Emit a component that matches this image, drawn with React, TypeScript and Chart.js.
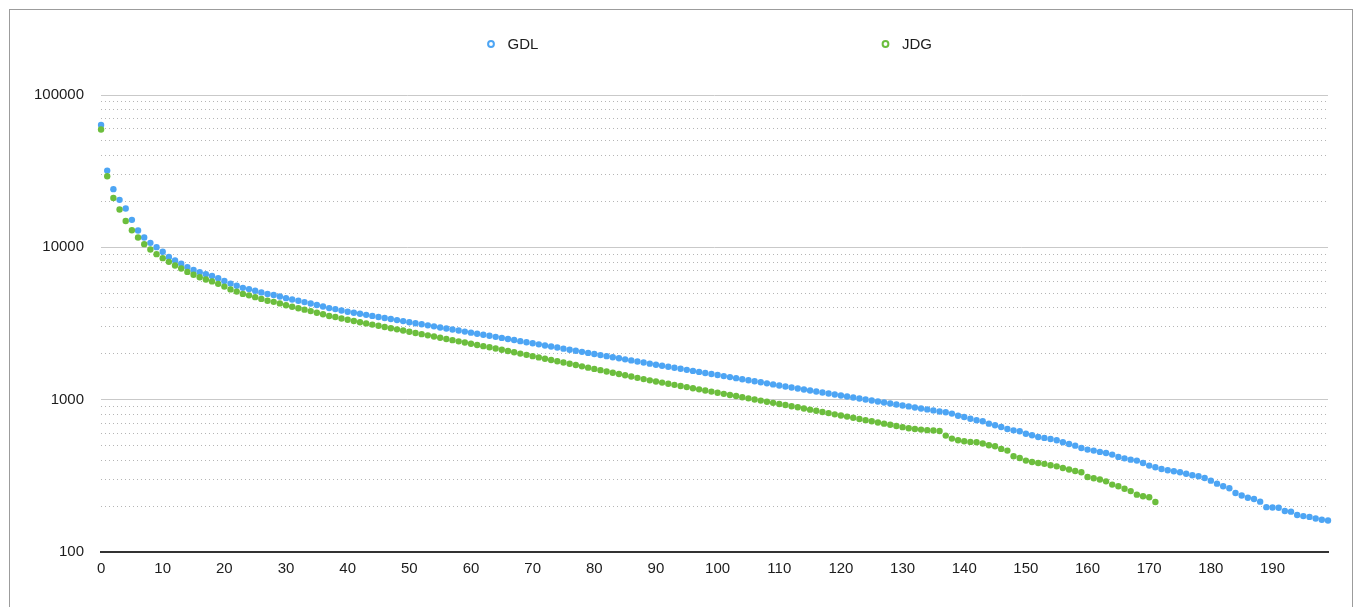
import React, { useEffect, useRef } from "react";
import { Chart, registerables } from "chart.js";

Chart.register(...registerables);

const FONT = '"Liberation Sans", Arial, Helvetica, sans-serif';

const SERIES_NAMES = ["GDL", "JDG"];
const SERIES_COLORS = ["#4DA5F4", "#6CBE3D"];

const GDL_VALUES = [
  63600, 31900, 24100, 20500, 17980, 15150, 12890, 11600, 10700, 10030,
  9345, 8640, 8190, 7800, 7420, 7110, 6870, 6660, 6480, 6260,
  6020, 5780, 5600, 5420, 5320, 5190, 5060, 4940, 4860, 4760,
  4640, 4550, 4460, 4370, 4280, 4180, 4090, 3990, 3930, 3850,
  3780, 3721, 3662, 3604, 3548, 3492, 3437, 3383, 3330, 3278,
  3226, 3175, 3125, 3076, 3028, 2980, 2933, 2887, 2842, 2797,
  2753, 2710, 2667, 2625, 2584, 2543, 2502, 2462, 2422, 2383,
  2345, 2307, 2270, 2234, 2198, 2163, 2128, 2094, 2060, 2027,
  1994, 1962, 1931, 1900, 1869, 1839, 1810, 1781, 1752, 1724,
  1697, 1671, 1645, 1619, 1594, 1569, 1545, 1521, 1497, 1474,
  1451, 1428, 1406, 1384, 1363, 1341, 1321, 1300, 1280, 1260,
  1240, 1221, 1202, 1183, 1165, 1148, 1131, 1114, 1097, 1081,
  1065, 1049, 1033, 1018, 1003, 988, 973, 958, 944, 930,
  916, 903, 889, 876, 863, 850, 837, 826, 810, 785,
  770, 750, 732, 721, 696, 679, 662, 642, 629, 620,
  598, 584, 569, 561, 552, 541, 525, 512, 499, 482,
  470, 463, 454, 447, 436, 421, 412, 404, 398, 384,
  369, 360, 351, 344, 339, 334, 326, 319, 314, 306,
  294, 281, 270, 262, 244, 235, 227, 223, 214, 197,
  196, 195, 186, 184, 175, 172, 170, 166, 163, 161,
];

const JDG_VALUES = [
  59300, 29300, 21100, 17700, 14900, 12960, 11600, 10490, 9680, 9020,
  8490, 8030, 7600, 7260, 6900, 6600, 6360, 6150, 5975, 5760,
  5525, 5295, 5120, 4945, 4840, 4710, 4585, 4465, 4385, 4285,
  4165, 4075, 3985, 3900, 3815, 3720, 3635, 3545, 3485, 3410,
  3345, 3285, 3226, 3168, 3111, 3055, 3000, 2946, 2894, 2842,
  2791, 2741, 2692, 2643, 2596, 2549, 2504, 2459, 2415, 2371,
  2329, 2287, 2246, 2206, 2166, 2127, 2086, 2046, 2007, 1969,
  1931, 1894, 1858, 1823, 1788, 1754, 1720, 1687, 1655, 1623,
  1592, 1562, 1532, 1503, 1474, 1446, 1418, 1391, 1365, 1339,
  1316, 1294, 1272, 1251, 1230, 1209, 1189, 1169, 1149, 1130,
  1111, 1092, 1074, 1056, 1038, 1020, 1003, 986, 970, 953,
  937, 922, 906, 891, 875, 860, 845, 830, 816, 801,
  787, 774, 760, 747, 734, 721, 708, 696, 684, 672,
  660, 649, 642, 636, 631, 627, 623, 581, 555, 541,
  533, 528, 525, 515, 502, 494, 475, 463, 425, 414,
  398, 390, 384, 379, 371, 365, 356, 348, 340, 334,
  311, 305, 299, 291, 277, 270, 260, 251, 238, 232,
  229, 213,
];

const X_MIN = 0;
const X_MAX = 199;
const X_TICK_STEP = 10;

const Y_MIN = 100;
const Y_MAX = 100000;
const Y_LABELED_TICKS = [100, 1000, 10000, 100000];
const Y_GRID_TICKS = [
  100, 200, 300, 400, 500, 600, 700, 800, 900,
  1000, 2000, 3000, 4000, 5000, 6000, 7000, 8000, 9000,
  10000, 20000, 30000, 40000, 50000, 60000, 70000, 80000, 90000,
  100000,
];

const LEGEND_CENTERS_X = [491, 885.5];
const LEGEND_Y = 44;

const legendPlugin = {
  id: "refLegend",
  afterDraw(chart: any) {
    const ctx = chart.ctx;
    ctx.save();
    ctx.font = `15px ${FONT}`;
    ctx.textBaseline = "middle";
    ctx.textAlign = "left";
    chart.data.datasets.forEach((ds: any, i: number) => {
      const cx = LEGEND_CENTERS_X[i];
      const cy = LEGEND_Y;
      ctx.beginPath();
      ctx.arc(cx, cy, 2.9, 0, Math.PI * 2);
      ctx.fillStyle = "#ffffff";
      ctx.fill();
      ctx.lineWidth = 2;
      ctx.strokeStyle = ds.borderColor;
      ctx.stroke();
      ctx.fillStyle = "#1c1c1c";
      ctx.fillText(ds.label, cx + 16.5, cy + 0.5);
    });
    ctx.restore();
  },
};

export default function App() {
  const canvasRef = useRef<HTMLCanvasElement | null>(null);

  useEffect(() => {
    const canvas = canvasRef.current;
    if (!canvas) return;
    const isLabeled = (v: number) => Y_LABELED_TICKS.includes(v);
    const chart = new Chart(canvas, {
      type: "scatter",
      data: {
        datasets: [
          {
            label: SERIES_NAMES[0],
            data: GDL_VALUES.map((y, x) => ({ x, y })),
            backgroundColor: SERIES_COLORS[0],
            borderColor: SERIES_COLORS[0],
            pointRadius: 3.2,
            pointBorderWidth: 0,
            pointHoverRadius: 3.2,
            showLine: false,
            clip: false as any,
            order: 1,
          },
          {
            label: SERIES_NAMES[1],
            data: JDG_VALUES.map((y, x) => ({ x, y })),
            backgroundColor: SERIES_COLORS[1],
            borderColor: SERIES_COLORS[1],
            pointRadius: 3.2,
            pointBorderWidth: 0,
            pointHoverRadius: 3.2,
            showLine: false,
            clip: false as any,
            order: 0,
          },
        ],
      },
      options: {
        responsive: false,
        animation: false,
        devicePixelRatio: 1,
        layout: { padding: { left: 17, right: 30, top: 95, bottom: 21 } },
        plugins: {
          legend: { display: false },
          tooltip: { enabled: false },
        },
        scales: {
          x: {
            type: "linear",
            min: X_MIN,
            max: X_MAX,
            grid: { display: false, drawTicks: false },
            border: { display: true, color: "#333333", width: 2 },
            ticks: {
              stepSize: X_TICK_STEP,
              includeBounds: false,
              autoSkip: false,
              maxRotation: 0,
              padding: 8,
              color: "#1c1c1c",
              font: { family: FONT, size: 15 },
            },
          },
          y: {
            type: "logarithmic",
            min: Y_MIN,
            max: Y_MAX,
            afterBuildTicks: (scale: any) => {
              scale.ticks = Y_GRID_TICKS.map((v) => ({ value: v, major: isLabeled(v) }));
            },
            grid: {
              drawTicks: false,
              lineWidth: 1,
              color: (c: any) =>
                c.tick && isLabeled(c.tick.value) ? "#c9c9c9" : "#b5b5b5",
            },
            border: {
              display: false,
              dash: (c: any) =>
                c.tick && !isLabeled(c.tick.value) ? [1, 3] : [],
            } as any,
            ticks: {
              autoSkip: false,
              padding: 17,
              color: "#1c1c1c",
              font: { family: FONT, size: 15 },
              callback: (value: any) => (isLabeled(Number(value)) ? String(value) : ""),
            },
          },
        },
      },
      plugins: [legendPlugin],
    });
    return () => chart.destroy();
  }, []);

  return (
    <div style={{ position: "fixed", inset: 0, background: "#ffffff", overflow: "hidden" }}>
      <canvas
        ref={canvasRef}
        width={1358}
        height={607}
        style={{ position: "absolute", left: 0, top: 0, width: 1358, height: 607 }}
      />
      <div
        style={{
          position: "absolute",
          left: 9,
          top: 9,
          width: 1342,
          height: 700,
          border: "1px solid #9c9c9c",
          pointerEvents: "none",
        }}
      />
    </div>
  );
}
